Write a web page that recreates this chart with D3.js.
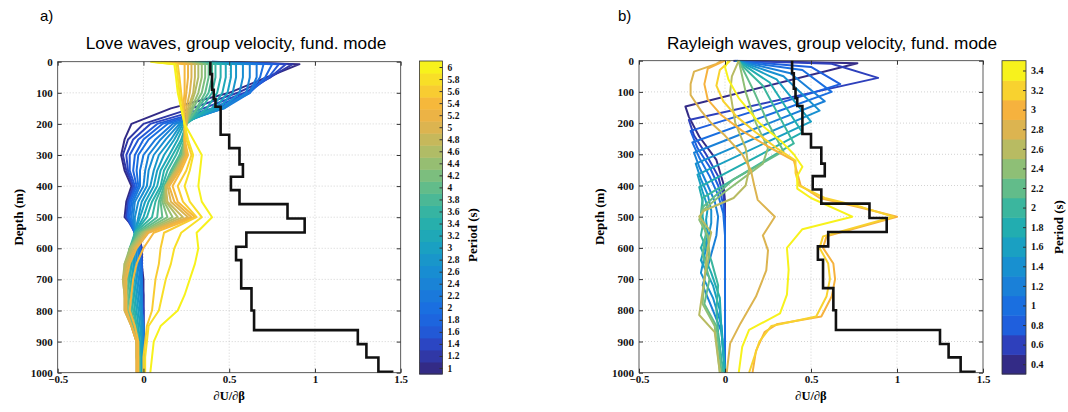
<!DOCTYPE html>
<html>
<head>
<meta charset="utf-8">
<script src="https://cdn.jsdelivr.net/npm/d3@7/dist/d3.min.js"></script>
<style>
  body { margin: 0; background: #fff; }
  svg { display: block; }
  .tick text { font-family: "Liberation Serif", "Times New Roman", serif; font-weight: bold; }
</style>
</head>
<body>
<svg id="chart" width="1068" height="412"></svg>
<script>
// ---- data ----
const xTicks = [-0.5, 0, 0.5, 1, 1.5];
const depthTicks = [0, 100, 200, 300, 400, 500, 600, 700, 800, 900, 1000];

// reference model (black staircase): layer tops and values
const modelTops = [0, 40, 90, 120, 145, 235, 278, 330, 370, 413, 458, 504, 549, 595, 638, 729, 800, 863, 908, 951, 997];
const modelVals = [0.39, 0.40, 0.41, 0.42, 0.45, 0.50, 0.56, 0.58, 0.51, 0.56, 0.84, 0.94, 0.60, 0.54, 0.57, 0.63, 0.645, 1.25, 1.30, 1.37, 1.45];

// Love waves, one kernel per period, sampled at loveDepths
const lovePeriods = [1, 1.2, 1.4, 1.6, 1.8, 2, 2.2, 2.4, 2.6, 2.8, 3, 3.2, 3.4, 3.6, 3.8, 4, 4.2, 4.4, 4.6, 4.8, 5, 5.2, 5.4, 5.6, 5.8, 6];
const loveDepths = [0, 8, 50, 100, 150, 200, 250, 300, 350, 400, 450, 500, 550, 600, 650, 700, 750, 800, 850, 900, 950, 1000];
const loveKernels = [
  [0.40, 0.91, 0.72, 0.50, 0.16, -0.07, -0.11, -0.13, -0.11, -0.07, -0.10, -0.11, -0.03, -0.01, -0.01, 0.00, 0.00, 0.00, 0.00, 0.00, 0.00, 0.00],
  [0.40, 0.87, 0.74, 0.55, 0.28, 0.00, -0.09, -0.12, -0.10, -0.06, -0.09, -0.10, -0.04, -0.01, -0.01, -0.01, 0.00, 0.00, 0.00, 0.00, 0.00, 0.00],
  [0.40, 0.83, 0.74, 0.59, 0.35, 0.04, -0.06, -0.10, -0.09, -0.06, -0.09, -0.10, -0.05, -0.01, -0.01, -0.01, -0.01, 0.00, 0.00, 0.00, 0.00, 0.00],
  [0.40, 0.79, 0.73, 0.61, 0.40, 0.08, -0.03, -0.08, -0.08, -0.05, -0.08, -0.09, -0.05, -0.02, -0.01, -0.01, -0.01, -0.01, 0.00, 0.00, 0.00, 0.00],
  [0.40, 0.75, 0.71, 0.62, 0.43, 0.11, 0.00, -0.05, -0.06, -0.04, -0.08, -0.09, -0.05, -0.02, -0.01, -0.01, -0.01, -0.01, 0.00, 0.00, 0.00, 0.00],
  [0.39, 0.70, 0.68, 0.62, 0.45, 0.14, 0.03, -0.03, -0.04, -0.03, -0.07, -0.08, -0.05, -0.02, -0.02, -0.01, -0.01, -0.01, -0.01, 0.00, 0.00, 0.00],
  [0.38, 0.66, 0.66, 0.62, 0.47, 0.17, 0.07, 0.00, -0.02, -0.02, -0.06, -0.07, -0.05, -0.03, -0.02, -0.01, -0.01, -0.01, 0.00, 0.00, 0.00, 0.00],
  [0.37, 0.62, 0.62, 0.60, 0.47, 0.19, 0.10, 0.03, 0.01, 0.00, -0.05, -0.06, -0.05, -0.03, -0.03, -0.02, -0.01, -0.01, 0.00, 0.00, 0.00, 0.00],
  [0.36, 0.58, 0.58, 0.56, 0.46, 0.21, 0.13, 0.06, 0.03, 0.02, -0.03, -0.05, -0.05, -0.04, -0.04, -0.03, -0.02, -0.01, -0.01, -0.01, 0.00, 0.00],
  [0.35, 0.54, 0.54, 0.52, 0.44, 0.22, 0.16, 0.09, 0.06, 0.04, -0.01, -0.03, -0.05, -0.05, -0.05, -0.04, -0.03, -0.02, -0.01, -0.01, -0.01, -0.01],
  [0.34, 0.51, 0.51, 0.49, 0.42, 0.23, 0.18, 0.12, 0.08, 0.06, 0.01, -0.02, -0.05, -0.06, -0.06, -0.05, -0.04, -0.03, -0.02, -0.01, -0.01, -0.01],
  [0.33, 0.48, 0.48, 0.46, 0.40, 0.24, 0.20, 0.15, 0.10, 0.08, 0.03, 0.00, -0.05, -0.07, -0.07, -0.06, -0.05, -0.04, -0.03, -0.02, -0.02, -0.02],
  [0.32, 0.45, 0.45, 0.43, 0.37, 0.25, 0.22, 0.17, 0.12, 0.10, 0.05, 0.02, -0.05, -0.07, -0.08, -0.07, -0.06, -0.05, -0.04, -0.03, -0.02, -0.02],
  [0.30, 0.42, 0.42, 0.40, 0.34, 0.25, 0.23, 0.19, 0.14, 0.11, 0.07, 0.05, -0.05, -0.08, -0.09, -0.08, -0.07, -0.06, -0.04, -0.03, -0.02, -0.02],
  [0.28, 0.40, 0.40, 0.38, 0.32, 0.25, 0.24, 0.21, 0.16, 0.12, 0.09, 0.08, -0.04, -0.08, -0.09, -0.09, -0.08, -0.07, -0.05, -0.03, -0.03, -0.02],
  [0.26, 0.38, 0.38, 0.36, 0.31, 0.25, 0.24, 0.22, 0.17, 0.13, 0.10, 0.11, -0.03, -0.08, -0.10, -0.10, -0.09, -0.08, -0.06, -0.04, -0.03, -0.03],
  [0.24, 0.36, 0.36, 0.34, 0.29, 0.25, 0.24, 0.23, 0.18, 0.13, 0.11, 0.14, -0.02, -0.08, -0.10, -0.11, -0.10, -0.09, -0.06, -0.04, -0.03, -0.03],
  [0.22, 0.34, 0.34, 0.32, 0.28, 0.25, 0.24, 0.23, 0.18, 0.13, 0.12, 0.17, -0.01, -0.08, -0.11, -0.11, -0.10, -0.10, -0.07, -0.04, -0.04, -0.03],
  [0.20, 0.32, 0.32, 0.30, 0.27, 0.25, 0.24, 0.24, 0.19, 0.13, 0.13, 0.20, 0.00, -0.07, -0.11, -0.12, -0.11, -0.10, -0.07, -0.04, -0.04, -0.03],
  [0.18, 0.30, 0.30, 0.29, 0.26, 0.25, 0.24, 0.24, 0.19, 0.13, 0.14, 0.23, 0.01, -0.06, -0.10, -0.12, -0.11, -0.11, -0.07, -0.04, -0.04, -0.04],
  [0.15, 0.28, 0.28, 0.27, 0.25, 0.25, 0.24, 0.25, 0.20, 0.14, 0.16, 0.26, 0.02, -0.05, -0.09, -0.11, -0.11, -0.11, -0.07, -0.04, -0.04, -0.04],
  [0.12, 0.26, 0.26, 0.25, 0.24, 0.24, 0.24, 0.25, 0.21, 0.15, 0.18, 0.28, 0.03, -0.04, -0.08, -0.10, -0.10, -0.10, -0.07, -0.04, -0.04, -0.04],
  [0.10, 0.24, 0.24, 0.24, 0.23, 0.24, 0.24, 0.26, 0.22, 0.17, 0.20, 0.30, 0.06, 0.00, -0.04, -0.06, -0.07, -0.08, -0.05, -0.03, -0.03, -0.03],
  [0.06, 0.20, 0.21, 0.22, 0.23, 0.24, 0.25, 0.28, 0.25, 0.20, 0.23, 0.31, 0.12, 0.10, 0.09, 0.07, 0.06, 0.05, 0.02, 0.01, 0.00, 0.00],
  [0.05, 0.19, 0.20, 0.21, 0.22, 0.24, 0.26, 0.29, 0.27, 0.24, 0.27, 0.34, 0.22, 0.18, 0.16, 0.13, 0.11, 0.09, 0.03, 0.02, 0.01, 0.01],
  [0.04, 0.18, 0.19, 0.20, 0.22, 0.24, 0.29, 0.34, 0.33, 0.32, 0.34, 0.40, 0.31, 0.32, 0.30, 0.27, 0.24, 0.20, 0.10, 0.06, 0.05, 0.04]
];

// Rayleigh waves, one kernel per period, as [depth, value] points
const rayleighPeriods = [0.4, 0.6, 0.8, 1, 1.2, 1.4, 1.6, 1.8, 2, 2.2, 2.4, 2.6, 2.8, 3, 3.2, 3.4];
const rayleighKernels = [
  [[0, 0.05], [8, 0.77], [147, -0.23], [180, -0.21], [243, -0.15], [318, -0.05], [393, -0.01], [450, 0], [1000, 0]],
  [[0, 0.05], [10, 0.62], [55, 0.89], [190, -0.21], [240, -0.18], [300, -0.11], [370, -0.04], [430, -0.01], [480, 0], [1000, 0]],
  [[0, 0.06], [20, 0.50], [75, 0.67], [225, -0.20], [280, -0.16], [340, -0.09], [400, -0.04], [460, -0.01], [520, 0], [1000, 0]],
  [[0, 0.06], [30, 0.45], [100, 0.62], [262, -0.19], [310, -0.15], [370, -0.09], [430, -0.04], [490, -0.01], [560, 0], [1000, 0]],
  [[0, 0.07], [40, 0.38], [130, 0.58], [295, -0.18], [340, -0.15], [400, -0.10], [450, -0.06], [500, -0.04], [560, -0.05], [640, -0.09], [720, -0.13], [800, -0.07], [870, -0.02], [1000, 0]],
  [[0, 0.07], [50, 0.34], [160, 0.55], [330, -0.17], [380, -0.14], [430, -0.10], [480, -0.08], [520, -0.08], [600, -0.11], [680, -0.14], [760, -0.07], [850, -0.02], [1000, 0]],
  [[0, 0.07], [60, 0.30], [195, 0.50], [365, -0.16], [420, -0.13], [470, -0.10], [510, -0.11], [560, -0.10], [640, -0.14], [720, -0.07], [800, -0.03], [870, -0.02], [1000, 0]],
  [[0, 0.07], [70, 0.26], [230, 0.45], [405, -0.15], [450, -0.13], [500, -0.13], [560, -0.11], [600, -0.14], [680, -0.08], [760, -0.03], [870, -0.02], [1000, 0]],
  [[0, 0.07], [80, 0.22], [265, 0.40], [440, -0.13], [490, -0.14], [530, -0.13], [560, -0.14], [640, -0.08], [720, -0.04], [800, -0.05], [870, -0.04], [1000, -0.01]],
  [[0, 0.08], [100, 0.17], [200, 0.25], [290, 0.34], [380, 0.05], [470, -0.13], [500, -0.14], [550, -0.11], [620, -0.13], [700, -0.09], [780, -0.12], [850, -0.05], [1000, -0.02]],
  [[0, 0.08], [100, 0.12], [200, 0.18], [280, 0.25], [330, 0.22], [420, 0.00], [480, -0.13], [510, -0.15], [560, -0.10], [620, -0.09], [700, -0.12], [780, -0.13], [850, -0.06], [1000, -0.03]],
  [[0, 0.08], [50, 0.04], [100, 0.03], [200, 0.06], [280, 0.12], [350, 0.14], [400, 0.12], [440, 0.05], [480, -0.12], [500, -0.15], [550, -0.08], [600, -0.10], [700, -0.12], [815, -0.15], [870, -0.06], [1000, -0.03]],
  [[0, -0.02], [10, -0.05], [35, -0.18], [75, -0.20], [110, -0.20], [160, -0.14], [200, -0.08], [240, 0.00], [300, 0.10], [350, 0.15], [400, 0.17], [446, 0.19], [500, 0.29], [560, 0.22], [608, 0.25], [672, 0.24], [756, 0.18], [842, 0.09], [906, 0.03], [1000, 0.01]],
  [[0, 0.00], [25, -0.10], [75, -0.12], [125, -0.10], [175, -0.02], [225, 0.10], [275, 0.25], [320, 0.40], [360, 0.42], [400, 0.44], [440, 0.55], [470, 0.78], [500, 1.00], [563, 0.59], [600, 0.57], [650, 0.63], [700, 0.64], [756, 0.62], [820, 0.56], [845, 0.30], [870, 0.23], [930, 0.18], [1000, 0.16]],
  [[0, 0.03], [30, -0.03], [80, -0.05], [130, -0.01], [180, 0.07], [230, 0.18], [280, 0.30], [320, 0.41], [360, 0.41], [400, 0.43], [440, 0.58], [470, 0.80], [500, 0.98], [563, 0.57], [600, 0.55], [650, 0.60], [700, 0.61], [756, 0.59], [820, 0.53], [850, 0.27], [900, 0.20], [1000, 0.14]],
  [[0, 0.02], [20, 0.00], [60, 0.02], [120, 0.08], [200, 0.20], [260, 0.33], [300, 0.40], [340, 0.45], [370, 0.42], [410, 0.42], [440, 0.50], [500, 0.74], [540, 0.45], [560, 0.42], [600, 0.36], [670, 0.37], [750, 0.36], [810, 0.32], [863, 0.14], [917, 0.10], [1000, 0.08]]
];

// parula-like colour stops
const parulaStops = ["#332b86", "#2e40bc", "#1f5fdd", "#1a6fe0", "#1a80d8", "#1890d0", "#1aa0c2", "#22adb0",
  "#3bb69e", "#62bc8a", "#8ebf76", "#b8bb62", "#dcb450", "#f6b23e", "#f8d22f", "#f7f21c"];
const parula = d3.scaleLinear()
  .domain(parulaStops.map((c, i) => i / (parulaStops.length - 1)))
  .range(parulaStops).interpolate(d3.interpolateRgb);

const svg = d3.select('#chart');
const serif = '"Liberation Serif", "Times New Roman", serif';
const sans = '"Liberation Sans", Arial, Helvetica, sans-serif';

function modelPoints() {
  const pts = [];
  modelTops.forEach((top, i) => {
    const bottom = i + 1 < modelTops.length ? modelTops[i + 1] : 1000;
    pts.push([top, modelVals[i]], [bottom, modelVals[i]]);
  });
  return pts;
}

function drawPanel(p) {
  const x = d3.scaleLinear().domain([-0.5, 1.5]).range([p.left, p.right]);
  const y = d3.scaleLinear().domain([0, 1000]).range([p.top, p.bottom]);
  const g = svg.append('g');

  // grid
  g.selectAll('.gx').data(xTicks.slice(1, -1)).join('line')
    .attr('x1', d => x(d)).attr('x2', d => x(d))
    .attr('y1', p.top).attr('y2', p.bottom)
    .attr('stroke', '#c8c8c8').attr('stroke-width', 0.8).attr('stroke-dasharray', '1,2');
  g.selectAll('.gy').data(depthTicks.slice(1, -1)).join('line')
    .attr('x1', p.left).attr('x2', p.right)
    .attr('y1', d => y(d)).attr('y2', d => y(d))
    .attr('stroke', '#c8c8c8').attr('stroke-width', 0.8).attr('stroke-dasharray', '1,2');

  // kernels
  const line = d3.line().x(d => x(d[1])).y(d => y(d[0]));
  const clipId = 'clip' + p.name;
  svg.append('clipPath').attr('id', clipId).append('rect')
    .attr('x', p.left).attr('y', p.top - 1).attr('width', p.right - p.left).attr('height', p.bottom - p.top + 2);
  const curves = g.append('g').attr('clip-path', `url(#${clipId})`);
  curves.selectAll('path.k').data(p.kernels).join('path')
    .attr('class', 'k')
    .attr('d', line)
    .attr('fill', 'none')
    .attr('stroke', (d, i) => parula(i / (p.kernels.length - 1)))
    .attr('stroke-width', 2)
    .attr('stroke-linejoin', 'round');
  curves.append('path')
    .attr('d', line(modelPoints()))
    .attr('fill', 'none').attr('stroke', '#111').attr('stroke-width', 2.6);

  // box
  g.append('rect').attr('x', p.left).attr('y', p.top)
    .attr('width', p.right - p.left).attr('height', p.bottom - p.top)
    .attr('fill', 'none').attr('stroke', '#333').attr('stroke-width', 0.8);

  // axes
  const ax = g.append('g').attr('transform', `translate(0,${p.bottom})`)
    .call(d3.axisBottom(x).tickValues(xTicks).tickSize(-4).tickPadding(3).tickFormat(d3.format('~g')));
  const ay = g.append('g').attr('transform', `translate(${p.left},0)`)
    .call(d3.axisLeft(y).tickValues(depthTicks).tickSize(-4).tickPadding(5).tickFormat(d3.format('d')));
  [ax, ay].forEach(a => {
    a.select('.domain').remove();
    a.selectAll('.tick line').attr('stroke', '#333');
    a.selectAll('.tick text').attr('font-size', 11).attr('fill', '#111');
  });
  g.append('g').attr('transform', `translate(0,${p.top})`)
    .call(d3.axisTop(x).tickValues(xTicks).tickSize(-4).tickFormat(''))
    .call(s => s.select('.domain').remove()).selectAll('line').attr('stroke', '#333');
  g.append('g').attr('transform', `translate(${p.right},0)`)
    .call(d3.axisRight(y).tickValues(depthTicks).tickSize(-4).tickFormat(''))
    .call(s => s.select('.domain').remove()).selectAll('line').attr('stroke', '#333');

  // labels
  g.append('text').attr('x', p.tagX).attr('y', 21).text(p.tag)
    .attr('font-family', sans).attr('font-size', 15);
  g.append('text').attr('x', p.titleX).attr('y', 49).attr('text-anchor', 'middle').text(p.title)
    .attr('font-family', sans).attr('font-size', 17.2);
  g.append('text').attr('transform', `translate(${p.left - 35},${(p.top + p.bottom) / 2}) rotate(-90)`)
    .attr('text-anchor', 'middle').text('Depth (m)')
    .attr('font-family', serif).attr('font-weight', 'bold').attr('font-size', 13);
  g.append('text').attr('x', (p.left + p.right) / 2).attr('y', 400).attr('text-anchor', 'middle')
    .text('\u2202U/\u2202\u03b2')
    .attr('font-family', serif).attr('font-weight', 'bold').attr('font-size', 12.5);

  // colorbar
  const n = p.periods.length;
  const lo = p.periods[0] - 0.1, hi = p.periods[n - 1] + 0.1;
  const cy = d3.scaleLinear().domain([lo, hi]).range([p.cbBottom, p.cbTop]);
  const cb = svg.append('g');
  cb.selectAll('rect.band').data(p.periods).join('rect')
    .attr('class', 'band')
    .attr('x', p.cbLeft).attr('width', p.cbWidth)
    .attr('y', d => cy(d + 0.1)).attr('height', d => cy(d - 0.1) - cy(d + 0.1) + 0.5)
    .attr('fill', (d, i) => parula(i / (n - 1)));
  cb.append('rect').attr('x', p.cbLeft).attr('y', p.cbTop).attr('width', p.cbWidth).attr('height', p.cbBottom - p.cbTop)
    .attr('fill', 'none').attr('stroke', '#333').attr('stroke-width', 0.8);
  const cax = cb.append('g').attr('transform', `translate(${p.cbLeft + p.cbWidth},0)`)
    .call(d3.axisRight(cy).tickValues(p.periods).tickSize(-3).tickPadding(5).tickFormat(d3.format('~g')));
  cax.select('.domain').remove();
  cax.selectAll('.tick line').attr('stroke', '#333');
  cax.selectAll('.tick text').attr('font-size', p.cbFont).attr('fill', '#111');
  cb.append('text').attr('transform', `translate(${p.cbLabelX},${p.cbLabelY}) rotate(-90)`)
    .attr('text-anchor', 'middle').text('Period (s)')
    .attr('font-family', serif).attr('font-weight', 'bold').attr('font-size', 13);
}

drawPanel({
  name: 'a', tag: 'a)', tagX: 40, title: 'Love waves, group velocity, fund. mode', titleX: 236,
  left: 57.7, right: 400.7, top: 61.7, bottom: 372.7,
  kernels: loveKernels.map(vals => loveDepths.map((d, i) => [d, vals[i]])),
  periods: lovePeriods,
  cbLeft: 419.5, cbWidth: 23, cbTop: 61, cbBottom: 374, cbFont: 9.5, cbLabelX: 477, cbLabelY: 235
});

drawPanel({
  name: 'b', tag: 'b)', tagX: 618, title: 'Rayleigh waves, group velocity, fund. mode', titleX: 832,
  left: 639, right: 983, top: 60.7, bottom: 372.7,
  kernels: rayleighKernels,
  periods: rayleighPeriods,
  cbLeft: 1002, cbWidth: 24, cbTop: 60.7, cbBottom: 374, cbFont: 10, cbLabelX: 1063, cbLabelY: 227
});
</script>
</body>
</html>
